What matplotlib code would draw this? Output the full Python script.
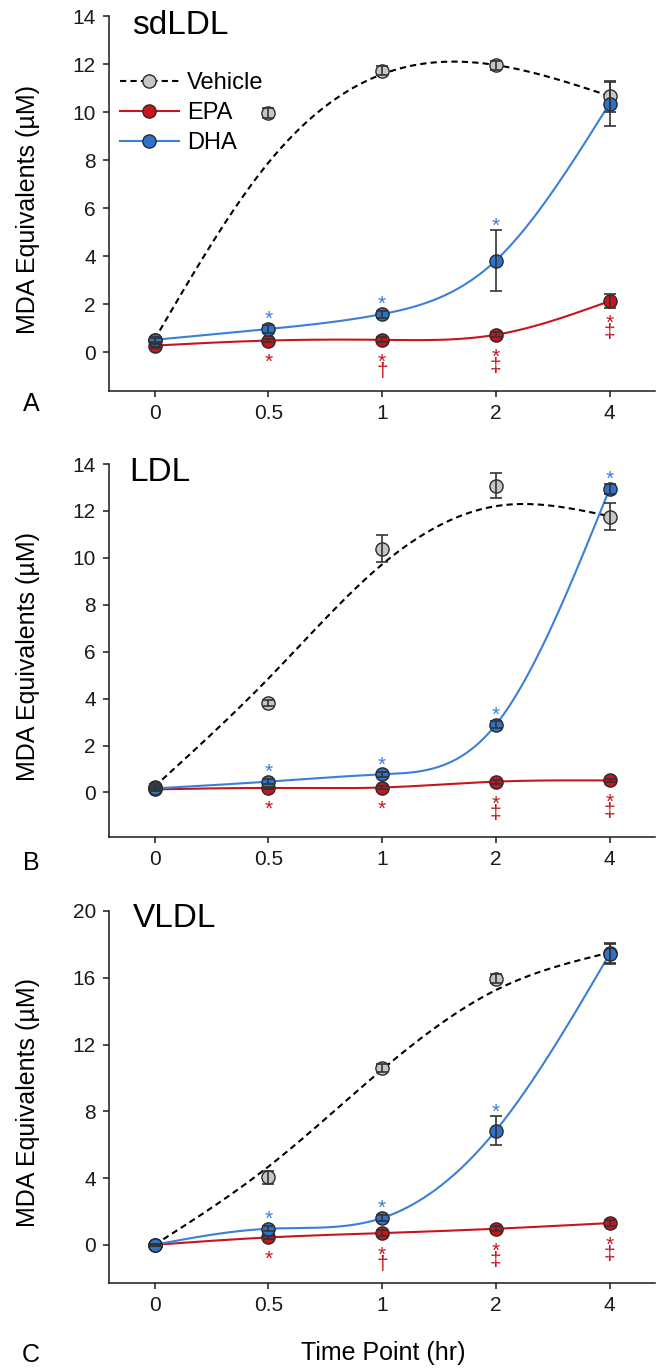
import numpy as np
import matplotlib.pyplot as plt

plt.rcParams['font.family'] = ['Liberation Sans', 'DejaVu Sans']

# 01 - Data
time_labels = ['0', '0.5', '1', '2', '4']

sdldl_vehicle = [0.50, 9.96, 11.73, 11.94, 10.66]
sdldl_vehicle_err = [0.10, 0.20, 0.20, 0.20, 0.65]
sdldl_epa = [0.28, 0.49, 0.52, 0.73, 2.13]
sdldl_epa_err = [0.08, 0.08, 0.10, 0.10, 0.28]
sdldl_dha = [0.52, 0.97, 1.59, 3.82, 10.35]
sdldl_dha_err = [0.10, 0.15, 0.15, 1.27, 0.92]

ldl_vehicle = [0.25, 3.81, 10.39, 13.07, 11.76]
ldl_vehicle_err = [0.10, 0.12, 0.58, 0.54, 0.58]
ldl_epa = [0.13, 0.19, 0.21, 0.46, 0.51]
ldl_epa_err = [0.05, 0.05, 0.05, 0.08, 0.08]
ldl_dha = [0.17, 0.46, 0.77, 2.88, 12.93]
ldl_dha_err = [0.10, 0.10, 0.10, 0.15, 0.22]

vldl_vehicle = [0.00, 4.05, 10.60, 15.95, 17.50]
vldl_vehicle_err = [0.05, 0.40, 0.25, 0.25, 0.60]
vldl_epa = [0.00, 0.44, 0.70, 0.96, 1.30]
vldl_epa_err = [0.05, 0.10, 0.20, 0.15, 0.20]
vldl_dha = [0.00, 0.96, 1.60, 6.84, 17.41]
vldl_dha_err = [0.05, 0.15, 0.20, 0.88, 0.60]

# significance marks (DHA above, EPA below)
sdldl_dha_marks = ['', '*', '*', '*', '']
sdldl_epa_marks = ['', '*', '*\n†', '*\n‡', '*\n‡']
ldl_dha_marks = ['', '*', '*', '*', '*']
ldl_epa_marks = ['', '*', '*', '*\n‡', '*\n‡']
vldl_dha_marks = ['', '*', '*', '*', '']
vldl_epa_marks = ['', '*', '*\n†', '*\n‡', '*\n‡']

# 02 - Style
c_vehicle = '#c6c6c6'
c_epa = '#c8141c'
c_dha = '#2f72cc'
c_dha_line = '#3a80d8'
c_edge = '#2a2a2a'
W, H = 664, 1370
sym_size = 15


def smooth_spline(x, y, lam, xs, w=None):
    # weighted natural cubic smoothing spline (Reinsch), lam = 0 -> interpolation
    x = np.asarray(x, float)
    y = np.asarray(y, float)
    n = len(x)
    Wm = np.diag(np.ones(n) if w is None else np.asarray(w, float))
    h = np.diff(x)
    Q = np.zeros((n, n - 2))
    R = np.zeros((n - 2, n - 2))
    for j in range(1, n - 1):
        Q[j - 1, j - 1] = 1 / h[j - 1]
        Q[j, j - 1] = -1 / h[j - 1] - 1 / h[j]
        Q[j + 1, j - 1] = 1 / h[j]
        R[j - 1, j - 1] = (h[j - 1] + h[j]) / 3
        if j < n - 2:
            R[j - 1, j] = R[j, j - 1] = h[j] / 6
    K = Q @ np.linalg.solve(R, Q.T)
    g = np.linalg.solve(Wm + lam * K, Wm @ y)
    gam = np.zeros(n)
    gam[1:-1] = np.linalg.solve(R, Q.T @ g)
    i = np.clip(np.searchsorted(x, xs) - 1, 0, n - 2)
    a = xs - x[i]
    b = x[i + 1] - xs
    return ((a * g[i + 1] + b * g[i]) / h[i]
            - a * b / 6 * ((1 + a / h[i]) * gam[i + 1] + (1 + b / h[i]) * gam[i]))


def panel(ax, title, vehicle, vehicle_err, epa, epa_err, dha, dha_err,
          dha_marks, epa_marks, ylim, yticks, title_xy, lam):
    pos = np.arange(len(time_labels))
    xs = np.linspace(0, pos[-1], 300)
    ax.set_xlim(-0.4, 4.4)
    ax.set_ylim(*ylim)

    ax.plot(xs, smooth_spline(pos, vehicle, lam, xs, w=[50, 1, 1, 1, 50]),
            color='black', lw=1.5, ls=(0, (3, 2)), zorder=2)
    ax.plot(xs, smooth_spline(pos, epa, 0, xs), color=c_epa, lw=1.5, zorder=2)
    ax.plot(xs, smooth_spline(pos, dha, 0, xs), color=c_dha_line, lw=1.5, zorder=2)

    for vals, errs, col, z in [(vehicle, vehicle_err, c_vehicle, 3),
                               (epa, epa_err, c_epa, 4),
                               (dha, dha_err, c_dha, 5)]:
        ax.plot(pos, vals, 'o', ms=9.5, mfc=col, mec=c_edge, mew=1.0, zorder=z)
        ax.errorbar(pos, vals, yerr=errs, fmt='none', ecolor='#333333',
                    elinewidth=1.2, capsize=4, capthick=1.2, zorder=6)

    # significance symbols
    px = ax.transData.transform([(0, 0), (0, 1)])
    px_per_unit = px[1, 1] - px[0, 1]
    for i in range(len(pos)):
        if dha_marks[i]:
            err_px = dha_err[i] * px_per_unit
            off = max(16 - err_px, 10) - 12
            ax.annotate(dha_marks[i], (pos[i], dha[i] + dha_err[i]), xytext=(0, off),
                        textcoords='offset pixels', ha='center', va='baseline',
                        fontsize=sym_size, color=c_dha_line, zorder=7)
        if epa_marks[i]:
            # baseline alignment refers to the last line of the text
            off = -37 if '\n' in epa_marks[i] else -27
            ax.annotate(epa_marks[i], (pos[i], epa[i]), xytext=(0, off),
                        textcoords='offset pixels', ha='center', va='baseline',
                        fontsize=sym_size, color=c_epa, linespacing=0.35, zorder=7)

    ax.set_xticks(pos, time_labels)
    ax.set_yticks(yticks)
    ax.tick_params(labelsize=15, length=4.5, width=1.1, pad=5, colors='#1a1a1a')
    for side in ['top', 'right']:
        ax.spines[side].set_visible(False)
    for side in ['left', 'bottom']:
        ax.spines[side].set_linewidth(1.1)
        ax.spines[side].set_color('#1a1a1a')
    ax.text(title_xy[0], title_xy[1], title, transform=ax.transAxes, fontsize=24,
            va='baseline', ha='left')
    ax.text(-0.148, 0.485, 'MDA Equivalents (µM)', transform=ax.transAxes,
            rotation=90, fontsize=18, ha='center', va='center')


# 03 - Figure
fig = plt.figure(figsize=(W / 100, H / 100), dpi=100)
left, width = 109 / W, 546 / W
axA = fig.add_axes([left, 1 - 391 / H, width, 375 / H])
axB = fig.add_axes([left, 1 - 837 / H, width, 373 / H])
axC = fig.add_axes([left, 1 - 1283 / H, width, 372 / H])

panel(axA, 'sdLDL', sdldl_vehicle, sdldl_vehicle_err, sdldl_epa, sdldl_epa_err,
      sdldl_dha, sdldl_dha_err, sdldl_dha_marks, sdldl_epa_marks,
      (-1.61, 14), np.arange(0, 15, 2), (0.042, 0.952), 0.35)
panel(axB, 'LDL', ldl_vehicle, ldl_vehicle_err, ldl_epa, ldl_epa_err,
      ldl_dha, ldl_dha_err, ldl_dha_marks, ldl_epa_marks,
      (-1.9, 14), np.arange(0, 15, 2), (0.038, 0.954), 0.2)
panel(axC, 'VLDL', vldl_vehicle, vldl_vehicle_err, vldl_epa, vldl_epa_err,
      vldl_dha, vldl_dha_err, vldl_dha_marks, vldl_epa_marks,
      (-2.29, 20), np.arange(0, 21, 4), (0.044, 0.957), 0.12)

# legend in panel A
handles = [
    plt.Line2D([], [], color='black', lw=1.5, ls=(0, (3, 2)), marker='o', ms=9.5,
               mfc=c_vehicle, mec=c_edge),
    plt.Line2D([], [], color=c_epa, lw=1.5, marker='o', ms=9.5, mfc=c_epa, mec=c_edge),
    plt.Line2D([], [], color=c_dha_line, lw=1.5, marker='o', ms=9.5, mfc=c_dha, mec=c_edge),
]
axA.legend(handles, ['Vehicle', 'EPA', 'DHA'], loc='upper left',
           bbox_to_anchor=(0.02, 0.851), frameon=False, fontsize=17,
           handlelength=2.5, handletextpad=0.35, labelspacing=0.35,
           borderaxespad=0, borderpad=0)

fig.text(31 / W, 1 - 404 / H, 'A', fontsize=18, ha='center', va='center')
fig.text(31 / W, 1 - 863 / H, 'B', fontsize=18, ha='center', va='center')
fig.text(31 / W, 1 - 1355 / H, 'C', fontsize=18, ha='center', va='center')
fig.text(383 / W, 1 - 1353 / H, 'Time Point (hr)', fontsize=18, ha='center', va='center')

fig.savefig('out.png', dpi=100)
